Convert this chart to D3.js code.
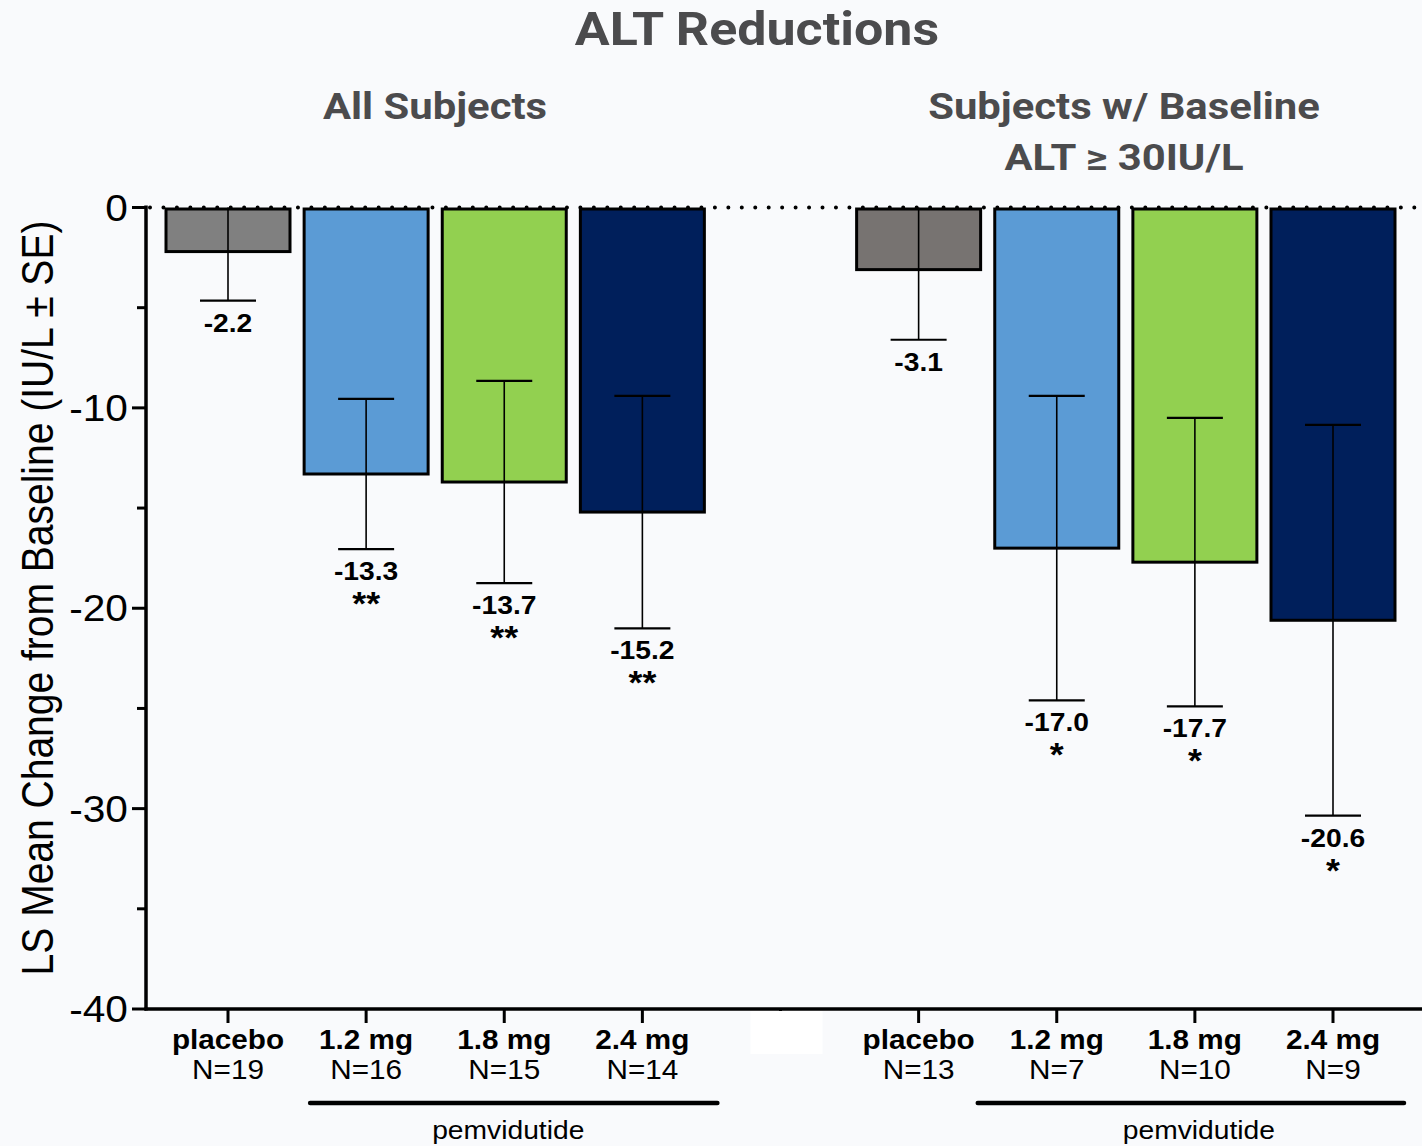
<!DOCTYPE html>
<html><head><meta charset="utf-8">
<script src="https://cdn.jsdelivr.net/npm/d3@7"></script>
<style>body{margin:0;background:#f9fafc;} svg{display:block}</style>
</head><body><svg id="c" width="1422" height="1146"></svg>
<script>
// ---- data ----
const title = "ALT Reductions";
const groupTitles = [["All Subjects"], ["Subjects w/ Baseline", "ALT \u2265 30IU/L"]];
const categories = ["g1_placebo","g1_1.2","g1_1.8","g1_2.4","gap","g2_placebo","g2_1.2","g2_1.8","g2_2.4"];
const barCats = ["g1_placebo","g1_1.2","g1_1.8","g1_2.4","g2_placebo","g2_1.2","g2_1.8","g2_2.4"];
const doseLabels = ["placebo","1.2 mg","1.8 mg","2.4 mg","placebo","1.2 mg","1.8 mg","2.4 mg"];
const nLabels = ["N=19","N=16","N=15","N=14","N=13","N=7","N=10","N=9"];
const means = [-2.2,-13.3,-13.7,-15.2,-3.1,-17.0,-17.7,-20.6];
const se = [2.45,3.75,5.05,5.8,3.5,7.6,7.2,9.75];
const stars = ["","**","**","**","","*","*","*"];
const barColors = ["#808080","#5b9bd5","#92d050","#001f5b","#777371","#5b9bd5","#92d050","#001f5b"];
const yTicks = [0,-10,-20,-30,-40];
const yMinorTicks = [-5,-15,-25,-35];
const yLabel = "LS Mean Change from Baseline (IU/L \u00b1 SE)";
const bracketGroups = [["g1_1.2","g1_2.4"],["g2_1.2","g2_2.4"]];
const bracketLabel = "pemvidutide";

// ---- layout ----
const SX = 1.13;
const svg = d3.select("#c");
const x = d3.scalePoint().domain(categories).range([228, 1333]);
const y = d3.scaleLinear().domain([-40, 0]).range([1009, 207.5]);
const barW = 124;
const arial = "'Liberation Sans', Arial, sans-serif";
const headFont = "Roboto, 'Open Sans', sans-serif";
const headColor = "#4b4b4d";

function stxt(g, tx, ty, str, opt) {
  return g.append("text")
    .attr("transform", `translate(${tx},${ty}) scale(${opt.sx || SX},1)` + (opt.rot ? ` rotate(${opt.rot})` : ""))
    .attr("text-anchor", opt.anchor || "middle")
    .attr("font-family", opt.family || arial)
    .attr("font-size", opt.size)
    .attr("font-weight", opt.weight || "normal")
    .attr("fill", opt.fill || "#000")
    .text(str);
}

// title & group titles
stxt(svg, 757, 45, title, {size: 46, weight: "bold", family: headFont, fill: headColor});
const grpCenters = [435, 1124];
groupTitles.forEach((lines, gi) => {
  lines.forEach((ln, li) => stxt(svg, grpCenters[gi], 119 + li * 51, ln, {size: 37, weight: "bold", family: headFont, fill: headColor}));
});

// bars
const bars = svg.append("g");
barCats.forEach((c, i) => {
  bars.append("rect")
    .attr("x", x(c) - barW / 2)
    .attr("y", y(0) + 1.5)
    .attr("width", barW)
    .attr("height", y(means[i]) - y(0) - 1.5)
    .attr("fill", barColors[i])
    .attr("stroke", "#000")
    .attr("stroke-width", 3);
});

// error bars
const eb = svg.append("g").attr("stroke", "#000");
const capW = 56;
barCats.forEach((c, i) => {
  const cx = x(c);
  const lo = means[i] - se[i];
  const hi = means[i] + se[i];
  const hiC = Math.min(hi, 0);
  eb.append("line").attr("x1", cx).attr("x2", cx).attr("y1", y(hiC)).attr("y2", y(lo)).attr("stroke-width", 1.6);
  eb.append("line").attr("x1", cx - capW/2).attr("x2", cx + capW/2).attr("y1", y(lo)).attr("y2", y(lo)).attr("stroke-width", 2.2);
  if (hi < 0) eb.append("line").attr("x1", cx - capW/2).attr("x2", cx + capW/2).attr("y1", y(hi)).attr("y2", y(hi)).attr("stroke-width", 2.2);
  // labels
  stxt(svg, cx, y(lo) + 31, means[i].toFixed(1), {size: 25, weight: "bold"});
  if (stars[i]) stxt(svg, cx, y(lo) + 66, stars[i], {size: 34, weight: "bold", sx: 1.05});
});

// dotted zero line
svg.append("line")
  .attr("x1", 150).attr("x2", 1422).attr("y1", y(0)).attr("y2", y(0))
  .attr("stroke", "#000").attr("stroke-width", 4)
  .attr("stroke-linecap", "round").attr("stroke-dasharray", "0 13.45");

// y axis
const yAxis = svg.append("g");
yAxis.append("line").attr("x1", 146).attr("x2", 146).attr("y1", y(0) - 2).attr("y2", y(-40) + 1.5)
  .attr("stroke", "#000").attr("stroke-width", 3.5);
yTicks.forEach(t => {
  yAxis.append("line").attr("x1", 132).attr("x2", 146).attr("y1", y(t)).attr("y2", y(t)).attr("stroke", "#000").attr("stroke-width", 3);
  stxt(yAxis, 128, y(t) + 13, d3.format("d")(t).replace("\u2212", "-"), {size: 36, anchor: "end"});
});
yMinorTicks.forEach(t => {
  yAxis.append("line").attr("x1", 137).attr("x2", 146).attr("y1", y(t)).attr("y2", y(t)).attr("stroke", "#000").attr("stroke-width", 3);
});
stxt(svg, 53, 598, yLabel, {size: 39, rot: -90});

// x axis
const xAxis = svg.append("g");
xAxis.append("line").attr("x1", 144.5).attr("x2", 1422).attr("y1", y(-40)).attr("y2", y(-40))
  .attr("stroke", "#000").attr("stroke-width", 3.5);
categories.forEach(c => {
  xAxis.append("line").attr("x1", x(c)).attr("x2", x(c)).attr("y1", y(-40)).attr("y2", y(-40) + 14)
    .attr("stroke", "#000").attr("stroke-width", 3);
});
// white mask over the gap slot
xAxis.append("rect").attr("x", x("gap") - 30).attr("y", y(-40) + 2).attr("width", 72).attr("height", 43).attr("fill", "#ffffff");
barCats.forEach((c, i) => {
  stxt(xAxis, x(c), 1049, doseLabels[i], {size: 27, weight: "bold", sx: 1.1});
  stxt(xAxis, x(c), 1079, nLabels[i], {size: 27, sx: 1.1});
});

// pemvidutide brackets
const brOff = [[-56, 75], [-79, 71]];
bracketGroups.forEach(([a, b], gi) => {
  const x1 = x(a) + brOff[gi][0], x2 = x(b) + brOff[gi][1];
  svg.append("line").attr("x1", x1).attr("x2", x2).attr("y1", 1103).attr("y2", 1103)
    .attr("stroke", "#000").attr("stroke-width", 4.5).attr("stroke-linecap", "round");
  stxt(svg, (x(a) + x(b)) / 2 + 4, 1139, bracketLabel, {size: 25});
});
</script></body></html>
